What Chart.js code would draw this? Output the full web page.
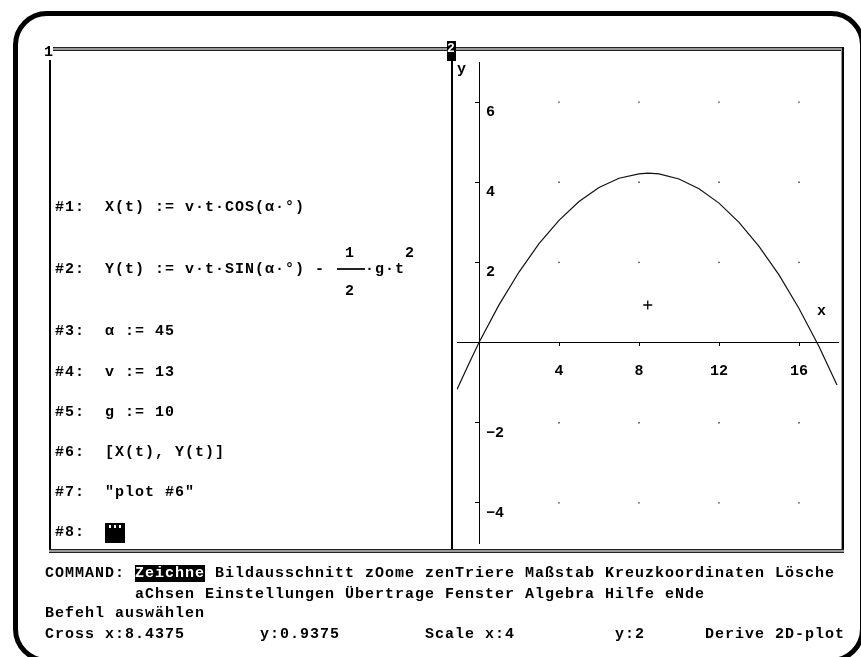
<!DOCTYPE html>
<html>
<head>
<meta charset="utf-8">
<script src="https://cdn.jsdelivr.net/npm/chart.js@4"></script>
<style>
html,body{margin:0;padding:0;background:#fff;}
body{width:861px;height:657px;position:relative;overflow:hidden;}
#wrap{position:absolute;left:0;top:0;width:861px;height:657px;z-index:1;}
.t{position:absolute;font-family:'Liberation Mono',monospace;font-weight:bold;font-size:15px;letter-spacing:1px;line-height:20px;height:20px;white-space:pre;color:#000;z-index:3;}
.r{position:absolute;z-index:2;}
.hl{background:#000;color:#fff;}
</style>
</head>
<body>
<!-- outer rounded screen border -->
<div class="r" style="left:13px;top:11px;width:852px;height:652px;box-sizing:border-box;border:5px solid #000;border-radius:34px;"></div>

<!-- window frames -->
<div class="r" style="left:53px;top:47px;width:791px;height:2px;border-top:1px solid #222;border-bottom:1px solid #222;background:#999;"></div>
<div class="r" style="left:49px;top:60px;width:2px;height:492px;background:#000;"></div>
<div class="r" style="left:451px;top:58px;width:2px;height:494px;background:#000;"></div>
<div class="r" style="left:841px;top:48px;width:1px;height:504px;background:#999;"></div>
<div class="r" style="left:842px;top:47px;width:2px;height:506px;background:#000;"></div>
<div class="r" style="left:49px;top:549px;width:795px;height:2px;border-top:1px solid #222;border-bottom:1px solid #222;background:#999;"></div>
<div class="r" style="left:447px;top:41px;width:9px;height:20px;background:#000;"></div>

<div class="t" style="left:44px;top:43px;">1</div>
<div class="t" style="left:447px;top:39px;color:#fff;font-size:13px;letter-spacing:0;">2</div>

<!-- algebra window -->
<div class="t" style="left:55px;top:198px;">#1:  X(t) := v·t·COS(α·°)</div>
<div class="t" style="left:55px;top:260px;">#2:  Y(t) := v·t·SIN(α·°) -</div>
<div class="t" style="left:345px;top:244px;">1</div>
<div class="r" style="left:337px;top:268px;width:28px;height:2px;background:#222;"></div>
<div class="t" style="left:345px;top:282px;">2</div>
<div class="t" style="left:365px;top:260px;">·g·t</div>
<div class="t" style="left:405px;top:244px;">2</div>
<div class="t" style="left:55px;top:322px;">#3:  α := 45</div>
<div class="t" style="left:55px;top:363px;">#4:  v := 13</div>
<div class="t" style="left:55px;top:403px;">#5:  g := 10</div>
<div class="t" style="left:55px;top:443px;">#6:  [X(t), Y(t)]</div>
<div class="t" style="left:55px;top:483px;">#7:  "plot #6"</div>
<div class="t" style="left:55px;top:523px;">#8:</div>
<div class="r" style="left:105px;top:523px;width:20px;height:20px;background:#000;">
  <div style="position:absolute;left:1px;top:2px;width:18px;height:3px;background:repeating-linear-gradient(90deg,#000 0 3px,#fff 3px 5px);"></div>
</div>

<!-- axis names -->
<div class="t" style="left:817px;top:302px;">x</div>
<div class="t" style="left:457px;top:60px;">y</div>

<!-- command area -->
<div class="t" style="left:45px;top:564px;">COMMAND: <span class="hl">Zeichne</span> Bildausschnitt zOome zenTriere Maßstab Kreuzkoordinaten Lösche</div>
<div class="t" style="left:135px;top:585px;">aChsen Einstellungen Übertrage Fenster Algebra Hilfe eNde</div>
<div class="t" style="left:45px;top:604px;">Befehl auswählen</div>
<div class="t" style="left:45px;top:625px;">Cross x:8.4375</div>
<div class="t" style="left:260px;top:625px;">y:0.9375</div>
<div class="t" style="left:425px;top:625px;">Scale x:4</div>
<div class="t" style="left:615px;top:625px;">y:2</div>
<div class="t" style="left:705px;top:625px;">Derive 2D-plot</div>

<div id="wrap"><canvas id="c"></canvas></div>

<script>
// ---- data ----
const xMin = -1.1, xMax = 17.95;
const yMin = -5, yMax = 7;
const xTicks = [4, 8, 12, 16];
const xTickLabels = ['4', '8', '12', '16'];
const yTicks = [6, 4, 2, -2, -4];
const yTickLabels = ['6', '4', '2', '−2', '−4'];
const pathX = [-1.1, -0.5, 0, 1, 2, 3, 4, 5, 6, 7, 8, 8.45, 9, 10, 11, 12, 13, 14, 15, 16, 17, 17.9];
const pathY = [-1.17, -0.52, 0, 0.94, 1.76, 2.47, 3.05, 3.52, 3.87, 4.10, 4.21, 4.23, 4.21, 4.08, 3.84, 3.48, 3.00, 2.40, 1.69, 0.85, -0.10, -1.06];
const crossX = [8.4375];
const crossY = [0.9375];

const pathPts = pathX.map((x, i) => ({x: x, y: pathY[i]}));
const crossPts = crossX.map((x, i) => ({x: x, y: crossY[i]}));
const gridPts = [];
xTicks.forEach(x => yTicks.forEach(y => gridPts.push({x: x, y: y})));

const tickFont = {family: "'Liberation Mono', monospace", weight: 'bold', size: 15};
Chart.defaults.font.family = "'Liberation Mono', monospace";

new Chart(document.getElementById('c'), {
  type: 'scatter',
  data: {
    datasets: [
      {label: 'grid', data: gridPts, pointStyle: 'rect', pointRadius: 1, backgroundColor: '#333', borderWidth: 0, showLine: false},
      {label: 'path', data: pathPts, showLine: true, borderColor: '#111', borderWidth: 1.2, pointRadius: 0, tension: 0, fill: false},
      {label: 'cross', data: crossPts, pointStyle: 'cross', pointRadius: 4.5, borderColor: '#000', borderWidth: 1.3, showLine: false}
    ]
  },
  options: {
    responsive: true,
    maintainAspectRatio: false,
    animation: false,
    events: [],
    layout: {padding: {left: 457, right: 23, top: 62, bottom: 114}},
    plugins: {legend: {display: false}, tooltip: {enabled: false}},
    scales: {
      x: {
        type: 'linear', min: xMin, max: xMax, position: {y: 0},
        afterFit: s => { s.height = 0; },
        afterBuildTicks: s => { s.ticks = xTicks.map(v => ({value: v})); },
        grid: {drawOnChartArea: false, drawTicks: true, tickLength: 3, color: '#000', tickColor: '#000', lineWidth: 1},
        border: {display: true, color: '#000', width: 1},
        ticks: {color: '#000', padding: 17, font: tickFont, autoSkip: false, maxRotation: 0,
                callback: (v, i) => xTickLabels[i]}
      },
      y: {
        type: 'linear', min: yMin, max: yMax, position: {x: 0},
        afterFit: s => { s.width = 0; },
        afterBuildTicks: s => { s.ticks = yTicks.map(v => ({value: v})); },
        grid: {drawOnChartArea: false, drawTicks: true, tickLength: 4, color: '#000', tickColor: '#000', lineWidth: 1},
        border: {display: true, color: '#000', width: 1},
        ticks: {display: false}
      },
      yl: {
        axis: 'y', type: 'linear', min: yMin, max: yMax, position: 'left',
        afterFit: s => { s.width = 0; },
        afterBuildTicks: s => { s.ticks = yTicks.map(v => ({value: v})); },
        grid: {display: false, drawTicks: false},
        border: {display: false},
        ticks: {mirror: true, crossAlign: 'near', padding: 29, labelOffset: 10, color: '#000', font: tickFont, autoSkip: false,
                callback: (v, i) => yTickLabels[i]}
      }
    }
  }
});
</script>
</body>
</html>
